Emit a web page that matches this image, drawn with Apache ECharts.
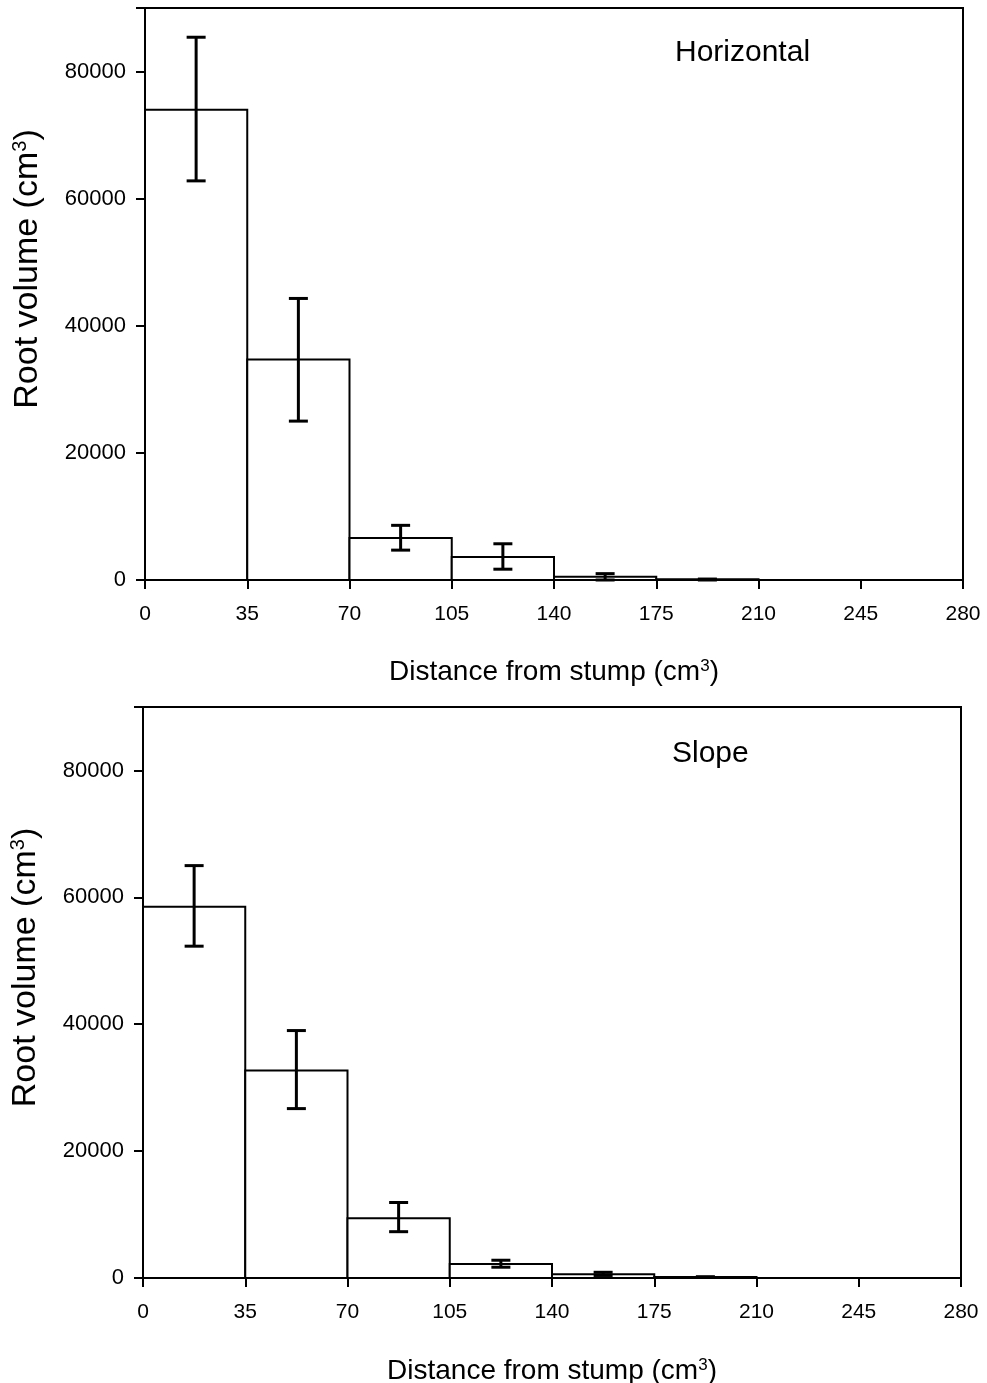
<!DOCTYPE html>
<html><head><meta charset="utf-8">
<script src="https://cdn.jsdelivr.net/npm/echarts@6/dist/echarts.min.js"></script>
<style>html,body{margin:0;padding:0;background:#fff}#c{width:987px;height:1383px}</style>
</head><body><div id="c"></div>
<script>
const binEdges = [0, 35, 70, 105, 140, 175, 210, 245, 280];
const xTicks = [0, 35, 70, 105, 140, 175, 210, 245, 280];
const yTicks = [0, 20000, 40000, 60000, 80000];
const panelTitles = ['Horizontal', 'Slope'];
const horizMean = [74000, 34700, 6600, 3600, 500, 100, 0, 0];
const horizLow  = [62800, 25000, 4700, 1700, 0, 0, 0, 0];
const horizHigh = [85400, 44300, 8600, 5700, 1000, 150, 0, 0];
const slopeMean = [58500, 32700, 9400, 2200, 600, 150, 0, 0];
const slopeLow  = [52300, 26700, 7300, 1700, 400, 100, 0, 0];
const slopeHigh = [65000, 39000, 11900, 2800, 900, 200, 0, 0];

const font = 'Liberation Sans, Arial, sans-serif';
const chart = echarts.init(document.getElementById('c'));

function barData(mean){ return mean.map((v,i)=>[binEdges[i], binEdges[i+1], v]); }
function errData(mean, lo, hi){ return mean.map((v,i)=>[(binEdges[i]+binEdges[i+1])/2, lo[i], hi[i]]); }

function renderBar(params, api){
  const p0 = api.coord([api.value(0), api.value(2)]);
  const p1 = api.coord([api.value(1), 0]);
  return {type:'rect', shape:{x:p0[0], y:p0[1], width:p1[0]-p0[0], height:p1[1]-p0[1]},
    style:{fill:'#fff', stroke:'#000', lineWidth:2}};
}
function renderErr(params, api){
  const lo = api.value(1), hi = api.value(2);
  if (hi - lo <= 0) return null;
  const a = api.coord([api.value(0), hi]);
  const b = api.coord([api.value(0), lo]);
  const w = 9.5;
  const st = {stroke:'#000', lineWidth:3};
  return {type:'group', children:[
    {type:'line', shape:{x1:a[0], y1:a[1], x2:b[0], y2:b[1]}, style:st},
    {type:'line', shape:{x1:a[0]-w, y1:a[1], x2:a[0]+w, y2:a[1]}, style:st},
    {type:'line', shape:{x1:b[0]-w, y1:b[1], x2:b[0]+w, y2:b[1]}, style:st}
  ]};
}

const grids = [
  {left:145, right:24, top:8, height:572, show:true, borderColor:'#000', borderWidth:2, backgroundColor:'transparent', containLabel:false, outerBoundsMode:'none'},
  {left:143, right:26, top:707, height:571, show:true, borderColor:'#000', borderWidth:2, backgroundColor:'transparent', containLabel:false, outerBoundsMode:'none'}
];
function xAx(i){ return {type:'value', gridIndex:i, min:0, max:280, interval:35,
  name:'Distance from stump (cm{sup|3})', nameLocation:'middle', nameGap:i===0?78:79,
  nameTextStyle:{fontFamily:font, fontSize:28, color:'#000',
    rich:{sup:{fontFamily:font, fontSize:17, color:'#000', verticalAlign:'top', padding:[0,0,12,0]}}},
  axisLine:{show:true, lineStyle:{color:'#000', width:2}},
  axisTick:{show:true, inside:false, length:9, lineStyle:{color:'#000', width:2}},
  axisLabel:{fontFamily:font, fontSize:21, color:'#000', margin:24},
  splitLine:{show:false}}; }
function yAx(i){ return {type:'value', gridIndex:i, min:0, max:90000, interval:20000,
  name:'Root volume (cm{sup|3})', nameLocation:'middle', nameGap:100, nameRotate:90,
  nameTextStyle:{fontFamily:font, fontSize:34, color:'#000', padding:[0,0,0,50],
    rich:{sup:{fontFamily:font, fontSize:20, color:'#000', verticalAlign:'top', padding:[0,0,15,0]}}},
  axisLine:{show:true, lineStyle:{color:'#000', width:2}},
  axisTick:{show:true, inside:false, length:9, lineStyle:{color:'#000', width:2}},
  axisLabel:{fontFamily:font, fontSize:22, color:'#000', margin:19,
    formatter:v=> yTicks.includes(v)? String(v):''},
  splitLine:{show:false}}; }

chart.setOption({
  animation:false,
  backgroundColor:'#fff',
  title:[
    {text:panelTitles[0], left:670, top:33, textStyle:{fontFamily:font, fontSize:30, fontWeight:'normal', color:'#000'}},
    {text:panelTitles[1], left:667, top:734, textStyle:{fontFamily:font, fontSize:30, fontWeight:'normal', color:'#000'}}
  ],
  grid:grids,
  xAxis:[xAx(0), xAx(1)],
  yAxis:[yAx(0), yAx(1)],
  series:[
    {type:'custom', xAxisIndex:0, yAxisIndex:0, renderItem:renderBar, data:barData(horizMean), encode:{x:[0,1], y:2}, clip:false},
    {type:'custom', xAxisIndex:0, yAxisIndex:0, renderItem:renderErr, data:errData(horizMean,horizLow,horizHigh), encode:{x:0, y:[1,2]}, z:5},
    {type:'custom', xAxisIndex:1, yAxisIndex:1, renderItem:renderBar, data:barData(slopeMean), encode:{x:[0,1], y:2}, clip:false},
    {type:'custom', xAxisIndex:1, yAxisIndex:1, renderItem:renderErr, data:errData(slopeMean,slopeLow,slopeHigh), encode:{x:0, y:[1,2]}, z:5}
  ]
});
</script></body></html>
